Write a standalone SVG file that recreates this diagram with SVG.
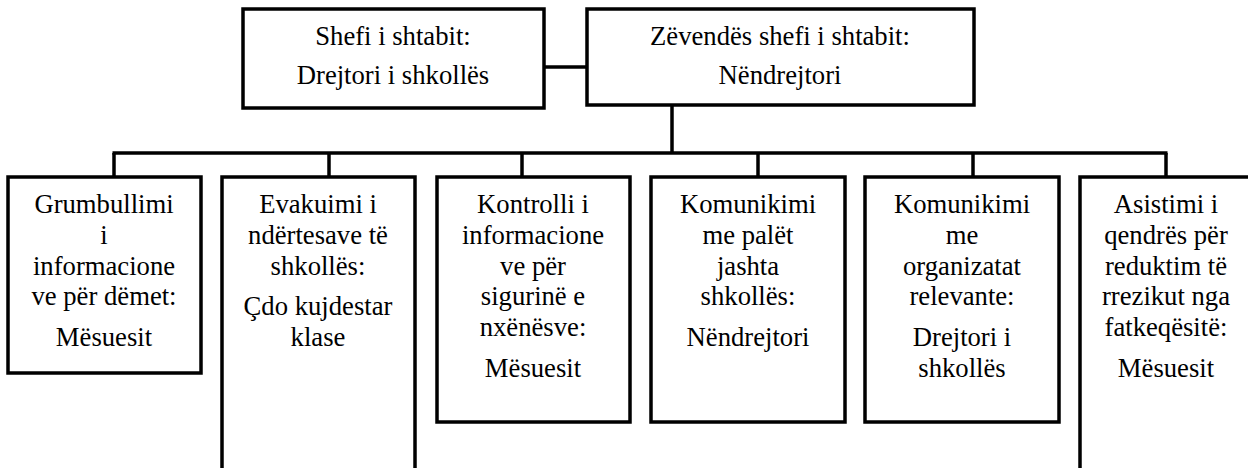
<svg xmlns="http://www.w3.org/2000/svg" width="1248" height="468" viewBox="0 0 1248 468">
<style>
.box{fill:#fff;stroke:#000;stroke-width:3.5}
.ln{fill:none;stroke:#000;stroke-width:3.5}
</style>
<rect width="1248" height="468" fill="#fff"/>
<g id="connectors">
<line class="ln" x1="544" y1="67" x2="587" y2="67"/>
<line class="ln" x1="672" y1="105" x2="672" y2="153"/>
<line class="ln" x1="112.5" y1="153" x2="1167.5" y2="153"/>
<line class="ln" x1="114" y1="153" x2="114" y2="177"/>
<line class="ln" x1="329" y1="153" x2="329" y2="177"/>
<line class="ln" x1="522" y1="153" x2="522" y2="177"/>
<line class="ln" x1="758" y1="153" x2="758" y2="177"/>
<line class="ln" x1="973" y1="153" x2="973" y2="177"/>
<line class="ln" x1="1166" y1="153" x2="1166" y2="177"/>
</g>
<g id="chief" font-family="Liberation Serif" font-size="26.67" text-anchor="middle" fill="#000">
<rect class="box" x="243" y="9" width="301" height="99"/>
<text x="393" y="45">Shefi i shtabit:</text>
<text x="393" y="84">Drejtori i shkollës</text>
</g>
<g id="deputy" font-family="Liberation Serif" font-size="26.67" text-anchor="middle" fill="#000">
<rect class="box" x="587" y="9" width="387" height="96"/>
<text x="780" y="45">Zëvendës shefi i shtabit:</text>
<text x="780" y="84">Nëndrejtori</text>
</g>
<g id="n1" font-family="Liberation Serif" font-size="26.67" text-anchor="middle" fill="#000">
<rect class="box" x="8" y="177" width="193" height="196"/>
<text x="104" y="213">Grumbullimi</text>
<text x="104" y="244">i</text>
<text x="104" y="275">informacione</text>
<text x="104" y="305">ve për dëmet:</text>
<text x="104" y="346">Mësuesit</text>
</g>
<g id="n2" font-family="Liberation Serif" font-size="26.67" text-anchor="middle" fill="#000">
<rect class="box" x="222" y="177" width="193" height="300"/>
<text x="318" y="213">Evakuimi i</text>
<text x="318" y="244">ndërtesave të</text>
<text x="318" y="275">shkollës:</text>
<text x="318" y="315">Çdo kujdestar</text>
<text x="318" y="346">klase</text>
</g>
<g id="n3" font-family="Liberation Serif" font-size="26.67" text-anchor="middle" fill="#000">
<rect class="box" x="437" y="177" width="193" height="245"/>
<text x="533" y="213">Kontrolli i</text>
<text x="533" y="244">informacione</text>
<text x="533" y="275">ve për</text>
<text x="533" y="305">sigurinë e</text>
<text x="533" y="336">nxënësve:</text>
<text x="533" y="377">Mësuesit</text>
</g>
<g id="n4" font-family="Liberation Serif" font-size="26.67" text-anchor="middle" fill="#000">
<rect class="box" x="651" y="177" width="194" height="245"/>
<text x="748" y="213">Komunikimi</text>
<text x="748" y="244">me palët</text>
<text x="748" y="275">jashta</text>
<text x="748" y="305">shkollës:</text>
<text x="748" y="346">Nëndrejtori</text>
</g>
<g id="n5" font-family="Liberation Serif" font-size="26.67" text-anchor="middle" fill="#000">
<rect class="box" x="865" y="177" width="194" height="245"/>
<text x="962" y="213">Komunikimi</text>
<text x="962" y="244">me</text>
<text x="962" y="275">organizatat</text>
<text x="962" y="305">relevante:</text>
<text x="962" y="346">Drejtori i</text>
<text x="962" y="377">shkollës</text>
</g>
<g id="n6" font-family="Liberation Serif" font-size="26.67" text-anchor="middle" fill="#000">
<rect class="box" x="1080" y="177" width="175" height="300"/>
<text x="1166" y="213">Asistimi i</text>
<text x="1166" y="244">qendrës për</text>
<text x="1166" y="275">reduktim të</text>
<text x="1166" y="305">rrezikut nga</text>
<text x="1166" y="336">fatkeqësitë:</text>
<text x="1166" y="377">Mësuesit</text>
</g>
</svg>
